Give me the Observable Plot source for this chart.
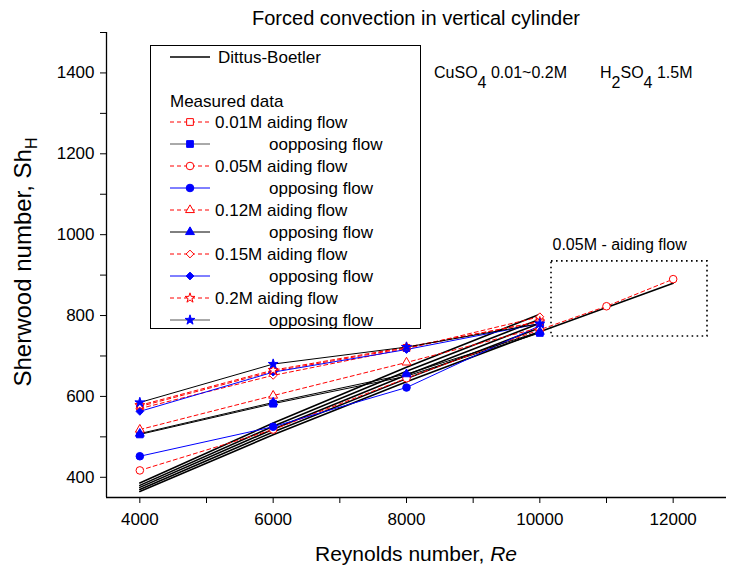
<!DOCTYPE html>
<html>
<head>
<meta charset="utf-8">
<script src="https://cdn.jsdelivr.net/npm/d3@7"></script>
<script src="https://cdn.jsdelivr.net/npm/@observablehq/plot@0.6"></script>
<style>
  body { margin: 0; background: #fff; }
  #chart svg { display: block; }
</style>
</head>
<body>
<div id="chart"></div>
<script>
// ---- Data ----
const reynolds = [4000, 6000, 8000, 10000];
const reynoldsExt = [4000, 6000, 8000, 10000, 11000, 12000];

// Dittus-Boetler correlation lines (one per concentration)
const dittusA = [365, 505, 636, 760, 820, 880]; // 0.05M, extended to 12000
const dittusB = [370, 512, 644, 770];
const dittusC = [375, 519, 653, 781];
const dittusD = [380, 526, 662, 791];
const dittusE = [386, 534, 672, 803];

// Measured data
const aid001 = [575, 662, 720, 785];
const opp001 = [506, 582, 650, 757];
const aid005 = [417, 518, 645, 765, 823, 890];
const opp005 = [452, 525, 622, 775];
const aid012 = [518, 602, 684, 770];
const opp012 = [508, 585, 655, 760];
const aid015 = [570, 652, 718, 797];
const opp015 = [563, 660, 716, 780];
const aid02  = [578, 665, 722, 785];
const opp02  = [585, 680, 722, 780];

// Ticks
const xTicks = [4000, 6000, 8000, 10000, 12000];
const xMinorTicks = [5000, 7000, 9000, 11000];
const yTicks = [400, 600, 800, 1000, 1200, 1400];
const yMinorTicks = [500, 700, 900, 1100, 1300, 1500];

// Annotation (data coordinates)
const boxRegion = [{x1: 10175, x2: 12515, y1: 748, y2: 934}];
const boxLabel = [{x: 10190, y: 976, text: "0.05M - aiding flow"}];

// Texts
const chartTitle = "Forced convection in vertical cylinder";
const legendLabels = ["0.01M aiding flow", "oopposing flow", "0.05M aiding flow", "opposing flow",
  "0.12M aiding flow", "opposing flow", "0.15M aiding flow", "opposing flow",
  "0.2M aiding flow", "opposing flow"];

// ---- Build tables ----
const RED = "#ff0000", BLUE = "#0000ff", BLACK = "#000000";
const dittusSets = [
  {name: "DA", re: reynoldsExt, sh: dittusA},
  {name: "DB", re: reynolds, sh: dittusB},
  {name: "DC", re: reynolds, sh: dittusC},
  {name: "DD", re: reynolds, sh: dittusD},
  {name: "DE", re: reynolds, sh: dittusE}
];
const dittusRows = dittusSets.flatMap(s => s.re.map((r, i) => ({Re: r, Sh: s.sh[i], name: s.name})));

const measured = [
  {name: "aid001", re: reynolds, sh: aid001, line: RED, dash: "4,3", symbol: "square", fill: "white", mstroke: RED, lsym: d3.symbolSquare, r: 3.8},
  {name: "opp001", re: reynolds, sh: opp001, line: BLACK, dash: null, symbol: "square", fill: BLUE, mstroke: BLUE, lsym: d3.symbolSquare, r: 3.8, legendLine: "#555"},
  {name: "aid005", re: reynoldsExt, sh: aid005, line: RED, dash: "4,3", symbol: "circle", fill: "white", mstroke: RED, lsym: d3.symbolCircle, r: 3.8},
  {name: "opp005", re: reynolds, sh: opp005, line: BLUE, dash: null, symbol: "circle", fill: BLUE, mstroke: BLUE, lsym: d3.symbolCircle, r: 3.8},
  {name: "aid012", re: reynolds, sh: aid012, line: RED, dash: "4,3", symbol: "triangle", fill: "white", mstroke: RED, lsym: d3.symbolTriangle, r: 3.3},
  {name: "opp012", re: reynolds, sh: opp012, line: BLACK, dash: null, symbol: "triangle", fill: BLUE, mstroke: BLUE, lsym: d3.symbolTriangle, r: 3.3},
  {name: "aid015", re: reynolds, sh: aid015, line: RED, dash: "4,3", symbol: "diamond2", fill: "white", mstroke: RED, lsym: d3.symbolDiamond2, r: 3.5},
  {name: "opp015", re: reynolds, sh: opp015, line: BLUE, dash: null, symbol: "diamond2", fill: BLUE, mstroke: BLUE, lsym: d3.symbolDiamond2, r: 3.5},
  {name: "aid02", re: reynolds, sh: aid02, line: RED, dash: "4,3", symbol: "star", fill: "white", mstroke: RED, lsym: d3.symbolStar, r: 3.1},
  {name: "opp02", re: reynolds, sh: opp02, line: BLACK, dash: null, symbol: "star", fill: BLUE, mstroke: BLUE, lsym: d3.symbolStar, r: 3.1, legendLine: "#555"}
];
const rowsOf = s => s.re.map((r, i) => ({Re: r, Sh: s.sh[i], name: s.name}));

const lineMarks = measured.map(s => Plot.line(rowsOf(s), {
  x: "Re", y: "Sh", stroke: s.line, strokeWidth: 1, strokeDasharray: s.dash || undefined
}));
const dotMarks = measured.map(s => Plot.dot(rowsOf(s), {
  x: "Re", y: "Sh", symbol: s.symbol, r: s.r, fill: s.fill, stroke: s.mstroke, strokeWidth: 1
}));

const FONT = "'Liberation Sans', Arial, Helvetica, sans-serif";

const plot = Plot.plot({
  width: 733,
  height: 572,
  marginLeft: 106,
  marginRight: 7,
  marginTop: 32,
  marginBottom: 75,
  x: {domain: [3500, 12800]},
  y: {domain: [350, 1500]},
  style: {fontFamily: FONT, fontSize: "17px", background: "white", color: "black"},
  marks: [
    Plot.line(dittusRows, {x: "Re", y: "Sh", z: "name", stroke: BLACK, strokeWidth: 1.6}),
    ...lineMarks,
    ...dotMarks,
    Plot.rect(boxRegion, {x1: "x1", x2: "x2", y1: "y1", y2: "y2", fill: "none", stroke: BLACK, strokeWidth: 1.6, strokeDasharray: "1.6,3.4"}),
    Plot.text(boxLabel, {x: "x", y: "y", text: "text", textAnchor: "start", fontSize: 16, fill: BLACK}),
    Plot.ruleX([3500], {stroke: BLACK, strokeWidth: 1.3}),
    Plot.ruleY([350], {stroke: BLACK, strokeWidth: 1.3}),
    Plot.axisX(xTicks, {tickSize: 6, tickPadding: 9, tickFormat: d => String(d), fontSize: 17, label: null}),
    Plot.axisX(xMinorTicks, {tickSize: 6, tickFormat: () => "", label: null}),
    Plot.axisY(yTicks, {tickSize: 6, tickPadding: 6, tickFormat: d => String(d), fontSize: 17, label: null}),
    Plot.axisY(yMinorTicks, {tickSize: 6, tickFormat: () => "", label: null})
  ]
});

document.getElementById("chart").appendChild(plot);

// ---- Extra text and legend ----
const svg = d3.select(plot);
const g = svg.append("g").attr("font-family", FONT).attr("fill", "black").attr("text-anchor", "start");

// Title
g.append("text").attr("x", 416).attr("y", 25).attr("text-anchor", "middle")
  .attr("font-size", 20).text(chartTitle);

// X axis title
const xt = g.append("text").attr("x", 416).attr("y", 561).attr("text-anchor", "middle").attr("font-size", 21);
xt.append("tspan").text("Reynolds number, ");
xt.append("tspan").attr("font-style", "italic").text("Re");

// Y axis title
const yt = g.append("text").attr("transform", "translate(31,262) rotate(-90)")
  .attr("text-anchor", "middle").attr("font-size", 24);
yt.append("tspan").text("Sherwood number, Sh");
yt.append("tspan").attr("font-size", 16).attr("dy", 6).text("H");

// Legend
const lg = g.append("g");
lg.append("rect").attr("x", 150.5).attr("y", 45.5).attr("width", 270).attr("height", 283)
  .attr("fill", "white").attr("stroke", "black").attr("stroke-width", 1);
lg.append("line").attr("x1", 170).attr("x2", 210).attr("y1", 57).attr("y2", 57)
  .attr("stroke", "black").attr("stroke-width", 1.3);
lg.append("text").attr("x", 218).attr("y", 57).attr("dy", "0.35em").attr("font-size", 17).text("Dittus-Boetler");
lg.append("text").attr("x", 170).attr("y", 101).attr("dy", "0.35em").attr("font-size", 17).text("Measured data");

measured.forEach((s, i) => {
  const y = 122 + i * 22;
  lg.append("line").attr("x1", 170).attr("x2", 210).attr("y1", y).attr("y2", y)
    .attr("stroke", s.legendLine || s.line).attr("stroke-width", 1)
    .attr("stroke-dasharray", s.dash || null);
  lg.append("path").attr("transform", `translate(190,${y})`)
    .attr("d", d3.symbol(s.lsym, Math.PI * s.r * s.r)())
    .attr("fill", s.fill).attr("stroke", s.mstroke).attr("stroke-width", 1);
  const aiding = legendLabels[i].includes("aiding");
  lg.append("text").attr("x", aiding ? 215 : 269).attr("y", y).attr("dy", "0.35em")
    .attr("font-size", 17).text(legendLabels[i]);
});

// CuSO4 / H2SO4 annotation
const c1 = g.append("text").attr("x", 434).attr("y", 78).attr("font-size", 16);
c1.append("tspan").text("CuSO");
c1.append("tspan").attr("dy", 10).text("4");
c1.append("tspan").attr("dy", -10).text(" 0.01~0.2M");
const c2 = g.append("text").attr("x", 600).attr("y", 78).attr("font-size", 16);
c2.append("tspan").text("H");
c2.append("tspan").attr("dy", 10).text("2");
c2.append("tspan").attr("dy", -10).text("SO");
c2.append("tspan").attr("dy", 10).text("4");
c2.append("tspan").attr("dy", -10).text(" 1.5M");
</script>
</body>
</html>
